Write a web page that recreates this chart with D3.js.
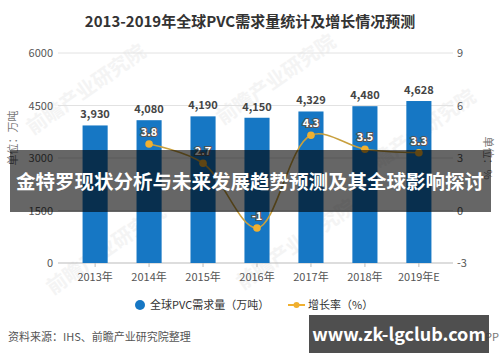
<!DOCTYPE html>
<html><head><meta charset="utf-8">
<script src="https://cdn.jsdelivr.net/npm/d3@7/dist/d3.min.js"></script>
<style>
body{margin:0;background:#fff;}
svg{display:block;font-family:"Microsoft YaHei","Noto Sans CJK SC",sans-serif;}
</style></head>
<body><svg id="c" width="500" height="362"></svg>
<script>
const categories = ["2013年","2014年","2015年","2016年","2017年","2018年","2019年E"];
const demand = [3930,4080,4190,4150,4329,4480,4628];
const growth = [null,3.8,2.7,-1,4.3,3.5,3.3];
const leftTicks = [0,1500,3000,4500,6000];
const rightTicks = [-3,0,3,6,9];
const title = "2013-2019年全球PVC需求量统计及增长情况预测";
const overlayText = "金特罗现状分析与未来发展趋势预测及其全球影响探讨";
const siteText = "www.zk-lgclub.com";

const svg = d3.select("#c");
const x = d3.scaleBand().domain(categories).range([68,446]).paddingInner(0.535).paddingOuter(0.27);
const yL = d3.scaleLinear().domain([0,6000]).range([263,53]);
const yR = d3.scaleLinear().domain([-3,9]).range([263,53]);

// watermarks
const wm = [[90,95],[280,85],[420,140],[110,255],[300,250]];
wm.forEach(([a,b])=>{
  svg.append("text").attr("x",a).attr("y",b).attr("transform",`rotate(-35,${a},${b})`)
    .attr("text-anchor","middle").attr("font-size",20).attr("font-weight","bold")
    .attr("fill","#f4f4f4").text("前瞻产业研究院");
});

// title
svg.append("text").attr("x",250).attr("y",27).attr("text-anchor","middle")
  .attr("font-size",15).attr("font-weight","bold").attr("fill","#333").text(title);

// gridlines
svg.append("g").selectAll("line").data(leftTicks).join("line")
  .attr("x1",58).attr("x2",453).attr("y1",d=>yL(d)).attr("y2",d=>yL(d))
  .attr("stroke",d=>d===0?"#bbb":"#e2e2e2").attr("stroke-width",1);

// left axis labels
svg.append("g").selectAll("text").data(leftTicks).join("text")
  .attr("x",53).attr("y",d=>yL(d)+4).attr("text-anchor","end")
  .attr("font-size",11).attr("fill","#555").text(d=>d);
// right axis labels
svg.append("g").selectAll("text").data(rightTicks).join("text")
  .attr("x",457).attr("y",d=>yR(d)+4).attr("text-anchor","start")
  .attr("font-size",11).attr("fill","#555").text(d=>d);

// axis titles
svg.append("text").attr("transform","translate(17,138) rotate(-90)").attr("text-anchor","middle")
  .attr("font-size",11).attr("fill","#777").text("单位：万吨");
svg.append("text").attr("transform","translate(484,158) rotate(90)").attr("text-anchor","middle")
  .attr("font-size",11).attr("fill","#777").text("单位：%");

// x ticks
svg.append("g").selectAll("line").data(categories).join("line")
  .attr("x1",d=>x(d)+x.bandwidth()/2).attr("x2",d=>x(d)+x.bandwidth()/2)
  .attr("y1",263).attr("y2",267).attr("stroke","#bbb");
svg.append("g").selectAll("text").data(categories).join("text")
  .attr("x",d=>x(d)+x.bandwidth()/2).attr("y",281).attr("text-anchor","middle")
  .attr("font-size",11).attr("fill","#555").text(d=>d);

// bars
svg.append("g").selectAll("rect").data(demand).join("rect")
  .attr("x",(d,i)=>x(categories[i])).attr("width",x.bandwidth())
  .attr("y",d=>yL(d)).attr("height",d=>yL(0)-yL(d)).attr("fill","#1677c4");
svg.append("g").selectAll("text").data(demand).join("text")
  .attr("x",(d,i)=>x(categories[i])+x.bandwidth()/2).attr("y",d=>yL(d)-7)
  .attr("text-anchor","middle").attr("font-size",11).attr("font-weight","bold")
  .attr("fill","#444").text(d=>d3.format(",")(d));

// line
const pts = growth.map((g,i)=>({c:categories[i],g})).filter(p=>p.g!==null);
const line = d3.line().x(p=>x(p.c)+x.bandwidth()/2).y(p=>yR(p.g)).curve(d3.curveCatmullRom.alpha(0.5));
svg.append("path").datum(pts).attr("d",line).attr("fill","none").attr("stroke","#c9a03e").attr("stroke-width",1.6);
svg.append("g").selectAll("circle").data(pts).join("circle")
  .attr("cx",p=>x(p.c)+x.bandwidth()/2).attr("cy",p=>yR(p.g)).attr("r",3.8).attr("fill","#f0b030");
svg.append("g").selectAll("text").data(pts).join("text")
  .attr("x",p=>x(p.c)+x.bandwidth()/2).attr("y",p=>yR(p.g)-8)
  .attr("text-anchor","middle").attr("font-size",11).attr("font-weight","bold")
  .attr("fill","#fff").attr("stroke","#555").attr("stroke-width",2.2).attr("paint-order","stroke")
  .text(p=>p.g);

// legend
svg.append("circle").attr("cx",140).attr("cy",305).attr("r",5).attr("fill","#1677c4");
svg.append("text").attr("x",150).attr("y",309).attr("font-size",11).attr("fill","#333").text("全球PVC需求量（万吨）");
svg.append("line").attr("x1",288).attr("x2",305).attr("y1",305).attr("y2",305).attr("stroke","#f0b030").attr("stroke-width",2);
svg.append("circle").attr("cx",296.5).attr("cy",305).attr("r",3).attr("fill","#f0b030");
svg.append("text").attr("x",308).attr("y",309).attr("font-size",11).attr("fill","#333").text("增长率（%）");

// source
svg.append("text").attr("x",8).attr("y",341).attr("font-size",11).attr("fill","#555").text("资料来源：IHS、前瞻产业研究院整理");
svg.append("text").attr("x",499).attr("y",341).attr("text-anchor","end").attr("font-size",11).attr("fill","#777").text("APP");

// overlay band
svg.append("rect").attr("x",10).attr("y",150).attr("width",481).attr("height",62).attr("fill","rgba(0,0,0,0.6)");
svg.append("text").attr("x",250).attr("y",189).attr("text-anchor","middle")
  .attr("font-size",19.5).attr("font-weight","bold").attr("fill","#fff").text(overlayText);

// site box
svg.append("rect").attr("x",309).attr("y",315).attr("width",180).attr("height",38).attr("fill","rgba(60,60,60,0.9)");
svg.append("text").attr("x",399).attr("y",341).attr("text-anchor","middle")
  .attr("font-size",18).attr("font-weight","bold").attr("fill","#fff").text(siteText);
</script></body></html>
